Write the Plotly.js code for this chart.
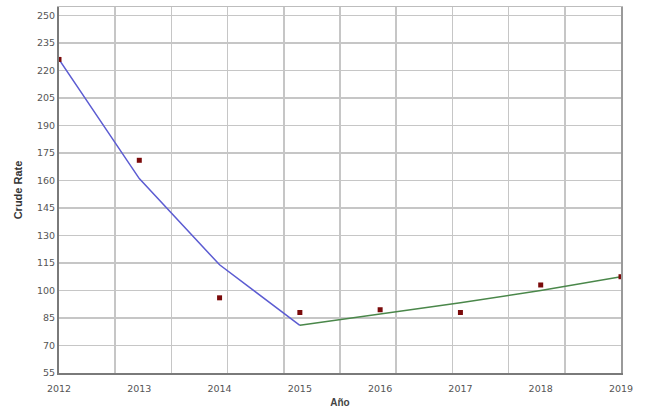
<!DOCTYPE html>
<html>
<head>
<meta charset="utf-8">
<script src="https://cdn.plot.ly/plotly-3.0.1.min.js"></script>
<style>html,body{margin:0;padding:0;background:#fff;}#chart{width:650px;height:415px;}</style>
</head>
<body>
<div id="chart"></div>
<script>
// Observed crude rates
const years = [2012, 2013, 2014, 2015, 2016, 2017, 2018, 2019];
const observed = [226, 171, 96, 88, 89.5, 88, 103, 107.5];
// Joinpoint segment 1 (2012-2015)
const seg1Years = [2012, 2013, 2014, 2015];
const seg1Values = [226, 161, 114, 81];
// Joinpoint segment 2 (2015-2019)
const seg2Years = [2015, 2016, 2017, 2018, 2019];
const seg2Values = [81, 87, 93.3, 100, 107.5];
const yTicks = [55, 70, 85, 100, 115, 130, 145, 160, 175, 190, 205, 220, 235, 250];
const xTickLabels = ['2012', '2013', '2014', '2015', '2016', '2017', '2018', '2019'];

const tickFont = {family: 'DejaVu Sans, Verdana, sans-serif', size: 9.5, color: '#555'};

const traces = [
  {x: seg1Years, y: seg1Values, mode: 'lines', line: {color: '#5c5cd2', width: 1.5}, hoverinfo: 'skip'},
  {x: seg2Years, y: seg2Values, mode: 'lines', line: {color: '#4a874a', width: 1.5}, hoverinfo: 'skip'},
  {x: years, y: observed, mode: 'markers', marker: {symbol: 'square', size: 5, color: '#7a0a0a'}},
  // invisible trace to bind the grid / frame axes
  {x: [2012, 2019], y: [55, 55], xaxis: 'x2', yaxis: 'y2', mode: 'markers', marker: {opacity: 0}, hoverinfo: 'skip'}
];

const layout = {
  width: 650, height: 415,
  margin: {l: 59, r: 29, t: 7, b: 42},
  paper_bgcolor: '#fff', plot_bgcolor: '#fff',
  showlegend: false,
  xaxis: {
    range: [2012, 2019],
    tickvals: years, ticktext: xTickLabels,
    showgrid: false, zeroline: false,
    showline: true, linecolor: '#7a7a7a', linewidth: 2, mirror: false,
    ticks: 'outside', ticklen: 6, tickcolor: 'rgba(0,0,0,0)',
    tickfont: tickFont,
    title: {text: 'Año', font: {family: 'Liberation Sans, Arial, sans-serif', size: 10, color: '#444', weight: 'bold'}, standoff: 6}
  },
  xaxis2: {
    overlaying: 'x', side: 'top',
    range: [2012, 2019],
    tick0: 2012, dtick: 0.7,
    showgrid: true, gridcolor: '#c6c6c6', gridwidth: 1.5,
    showticklabels: false, ticks: '', zeroline: false,
    showline: true, linecolor: '#bdbdbd', linewidth: 1.5
  },
  yaxis: {
    range: [55, 254.6],
    tickvals: yTicks,
    showgrid: true, gridcolor: '#c6c6c6', gridwidth: 1.5,
    zeroline: false,
    showline: true, linecolor: '#7a7a7a', linewidth: 2,
    ticks: '', tickfont: tickFont,
    title: {text: 'Crude Rate', font: {family: 'Liberation Sans, Arial, sans-serif', size: 11, color: '#333', weight: 'bold'}, standoff: 12}
  },
  yaxis2: {
    overlaying: 'y', side: 'right',
    range: [55, 254.6],
    showgrid: false, showticklabels: false, ticks: '', zeroline: false,
    showline: true, linecolor: '#9a9a9a', linewidth: 2
  }
};

Plotly.newPlot('chart', traces, layout, {displayModeBar: false, staticPlot: true});
</script>
</body>
</html>
